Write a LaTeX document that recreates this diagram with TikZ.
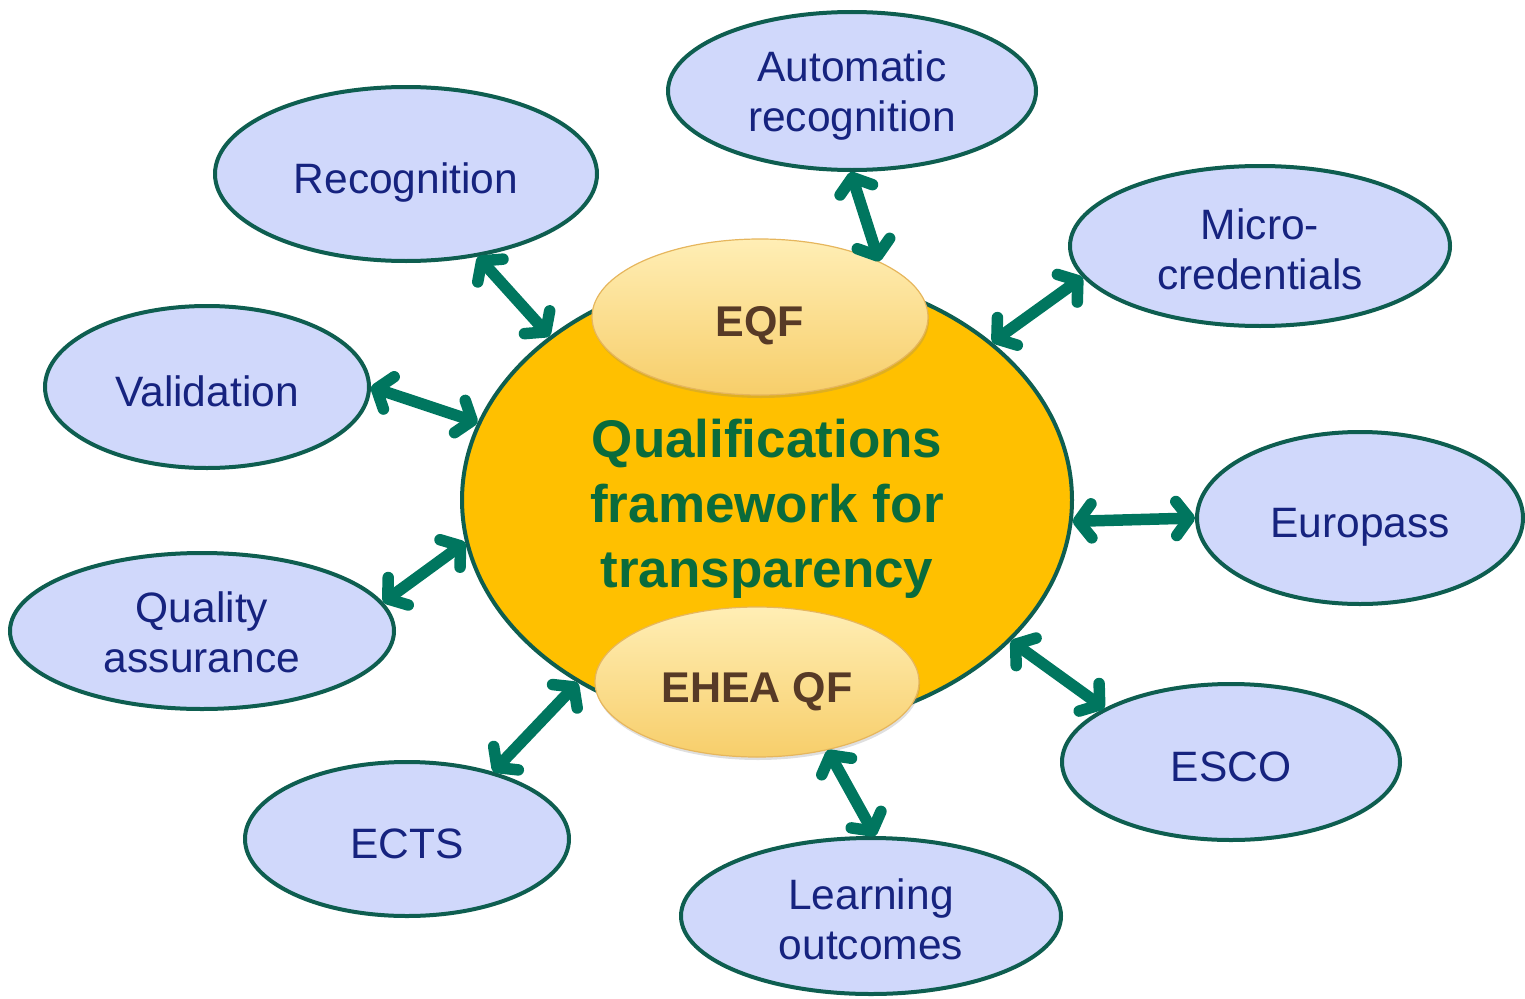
\documentclass[tikz,border=0pt]{standalone}
\usepackage{fontspec}
\setmainfont{Liberation Sans}
\usetikzlibrary{shapes.geometric,arrows.meta,shadows}
\definecolor{mainfill}{HTML}{FFC000}
\definecolor{outl}{HTML}{0E5E50}
\definecolor{bluefill}{HTML}{D0D8FB}
\definecolor{bluetext}{HTML}{16237F}
\definecolor{titlec}{HTML}{0A6B3C}
\definecolor{arrowc}{HTML}{00765F}
\definecolor{browntext}{HTML}{573A26}
\definecolor{goldtop}{HTML}{FFEEB5}
\definecolor{goldbot}{HTML}{F7CE6A}
\begin{document}
\begin{tikzpicture}[x=1pt,y=-1pt,
  topic/.style={ellipse, draw=outl, line width=4pt, fill=bluefill, inner sep=0pt,
    text=bluetext, align=center, text height=85pt, text depth=0pt, font=\fontsize{42.5}{50}\selectfont},
  single/.style={topic, text height=38pt},
  framework/.style={ellipse, draw=outl, line width=4pt, fill=mainfill, inner sep=0pt,
    text=titlec, align=center, text height=175pt, text depth=0pt, font=\fontsize{53}{65}\selectfont\bfseries},
  qf/.style={ellipse, draw=goldbot!70!brown, line width=1.2pt, top color=goldtop, bottom color=goldbot,
    inner sep=0pt, text=browntext, text height=39pt, text depth=0pt, font=\fontsize{43}{48}\selectfont\bfseries,
    drop shadow={opacity=0.25, shadow xshift=1pt, shadow yshift=-3pt}},
  link/.style={draw=arrowc, line width=11.5pt,
    {Straight Barb[length=13pt,width=34pt,line cap=round,line join=round]}-{Straight Barb[length=13pt,width=34pt,line cap=round,line join=round]}}
]
\useasboundingbox (0,0) rectangle (1525,998);

\node[framework, minimum width=610pt, minimum height=460pt] (main) at (767,500)
  {Qualifications\\framework for\\transparency};
\node[qf, minimum width=336pt, minimum height=156pt] (eqf) at (760,317) {EQF};
\node[qf, text height=41pt, minimum width=324pt, minimum height=150pt] (ehea) at (757,682) {EHEA QF};

\node[topic, text height=81pt, minimum width=368pt, minimum height=158pt] (auto) at (852,91) {Automatic\\recognition};
\node[single, minimum width=382pt, minimum height=174pt] (recog) at (406,174) {Recognition};
\node[topic, text height=87pt, minimum width=380pt, minimum height=160pt] (micro) at (1260,246) {Micro-\\credentials};
\node[single, minimum width=324pt, minimum height=162pt] (valid) at (207,387) {Validation};
\node[single, minimum width=326pt, minimum height=172pt] (europ) at (1360,518) {Europass};
\node[topic, text height=83pt, minimum width=384pt, minimum height=156pt] (qual) at (202,631) {Quality\\assurance};
\node[single, minimum width=338pt, minimum height=156pt] (esco) at (1231,762) {ESCO};
\node[single, minimum width=324pt, minimum height=154pt] (ects) at (407,839) {ECTS};
\node[topic, text height=87pt, minimum width=380pt, minimum height=156pt] (learn) at (871,916) {Learning\\outcomes};

\draw[link] (auto.-91) -- (eqf.25);
\draw[link] (recog.-49) -- (main.143.5);
\draw[link] (micro.-170.4) -- (main.35.7);
\draw[link] (valid.0) -- (main.165.7);
\draw[link] (europ.180) -- (main.-4.3);
\draw[link] (qual.9.4) -- (main.-172.9);
\draw[link] (esco.157.7) -- (main.-30.1);
\draw[link] (ects.38.7) -- (main.-136.5);
\draw[link] (learn.87) -- (ehea.-44);
\end{tikzpicture}
\end{document}
